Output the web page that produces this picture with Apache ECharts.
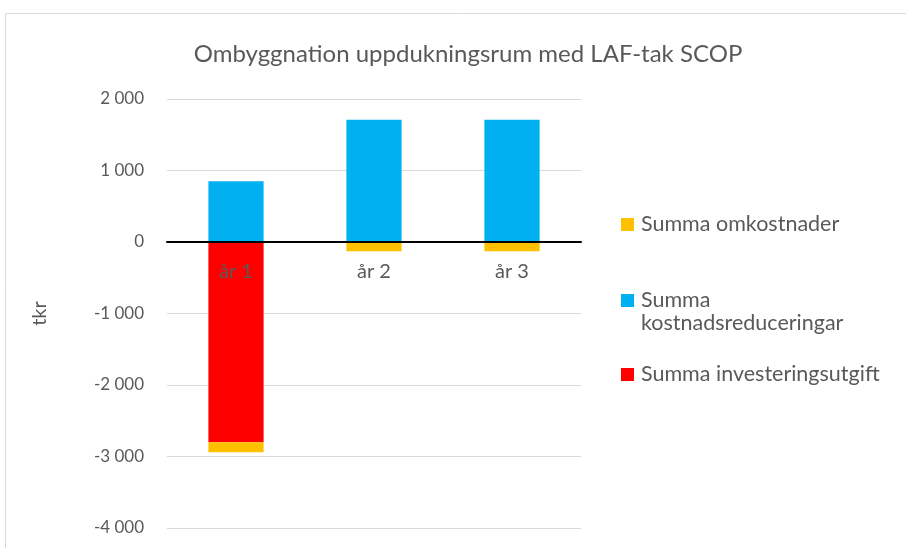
<!DOCTYPE html>
<html>
<head>
<meta charset="utf-8">
<script src="https://cdn.jsdelivr.net/npm/echarts@6/dist/echarts.min.js"></script>
<style>
  html, body { margin: 0; padding: 0; background: #fff; }
  #chart { width: 906px; height: 548px; }
</style>
</head>
<body>
<div id="chart"></div>
<script>
// data
var years = ['år 1', 'år 2', 'år 3'];
var investering = [-2800, 0, 0];
var reduceringar = [850, 1710, 1710];
var omkostnader = [-140, -130, -130];
var yTicks = { min: -4000, max: 2000, step: 1000 };

var fontName = 'Lato, "Open Sans", sans-serif';
var textGray = '#595959';

// tusentalsavgränsare med mellanslag
function fmt(v) {
  var s = String(Math.abs(v)).replace(/\B(?=(\d{3})+(?!\d))/g, ' ');
  return (v < 0 ? '-' : '') + s;
}

// en legend per post, så att avstånden blir som i originalet
function legendItem(name, top, label) {
  return {
    orient: 'vertical',
    left: 616,
    top: top,
    itemWidth: 13,
    itemHeight: 13,
    itemGap: 0,
    icon: 'rect',
    data: [name],
    formatter: function () { return label; },
    textStyle: { fontSize: 21.5, color: textGray, fontFamily: fontName, lineHeight: 23, padding: [0, 0, 0, 2] }
  };
}

var chart = echarts.init(document.getElementById('chart'));

var option = {
  animation: false,
  backgroundColor: '#fff',
  textStyle: { fontFamily: fontName },
  graphic: [{
    type: 'rect',
    shape: { x: 5.5, y: 13.5, width: 920, height: 560 },
    style: { fill: null, stroke: '#d9d9d9', lineWidth: 1 },
    silent: true
  }],
  title: {
    text: 'Ombyggnation uppdukningsrum med LAF-tak SCOP',
    left: 463,
    textAlign: 'center',
    top: 37,
    textStyle: { fontSize: 24, fontWeight: 'normal', color: textGray, fontFamily: fontName }
  },
  legend: [
    legendItem('Summa omkostnader', 208, 'Summa omkostnader'),
    // tom första rad så att ikonen hamnar i höjd med "Summa"
    legendItem('Summa kostnadsreduceringar', 261, ' \nSumma\nkostnadsreduceringar'),
    legendItem('Summa investeringsutgift', 358, 'Summa investeringsutgift')
  ],
  grid: { left: 167, right: 325, top: 99, bottom: 20, outerBoundsMode: 'none' },
  xAxis: {
    type: 'category',
    data: years,
    z: 5,
    offset: -286,
    axisLine: { onZero: false, lineStyle: { color: '#000', width: 2 } },
    axisTick: { show: false },
    axisLabel: { color: textGray, fontSize: 20, margin: 20, fontFamily: fontName }
  },
  yAxis: {
    type: 'value',
    min: yTicks.min,
    max: yTicks.max,
    interval: yTicks.step,
    name: 'tkr',
    nameLocation: 'middle',
    nameRotate: 90,
    nameGap: 117,
    nameTextStyle: { fontSize: 20, color: textGray, fontFamily: fontName },
    axisLine: { show: false },
    axisTick: { show: false },
    splitLine: { lineStyle: { color: '#d9d9d9', width: 1 } },
    axisLabel: { color: textGray, fontSize: 17, margin: 23, formatter: fmt, fontFamily: fontName }
  },
  series: [
    {
      name: 'Summa investeringsutgift',
      type: 'bar',
      stack: 'tot',
      barWidth: '40%',
      itemStyle: { color: '#ff0000' },
      data: investering
    },
    {
      name: 'Summa kostnadsreduceringar',
      type: 'bar',
      stack: 'tot',
      barWidth: '40%',
      itemStyle: { color: '#00b0f0' },
      data: reduceringar
    },
    {
      name: 'Summa omkostnader',
      type: 'bar',
      stack: 'tot',
      barWidth: '40%',
      itemStyle: { color: '#ffc000' },
      data: omkostnader
    }
  ]
};

chart.setOption(option);
</script>
</body>
</html>
